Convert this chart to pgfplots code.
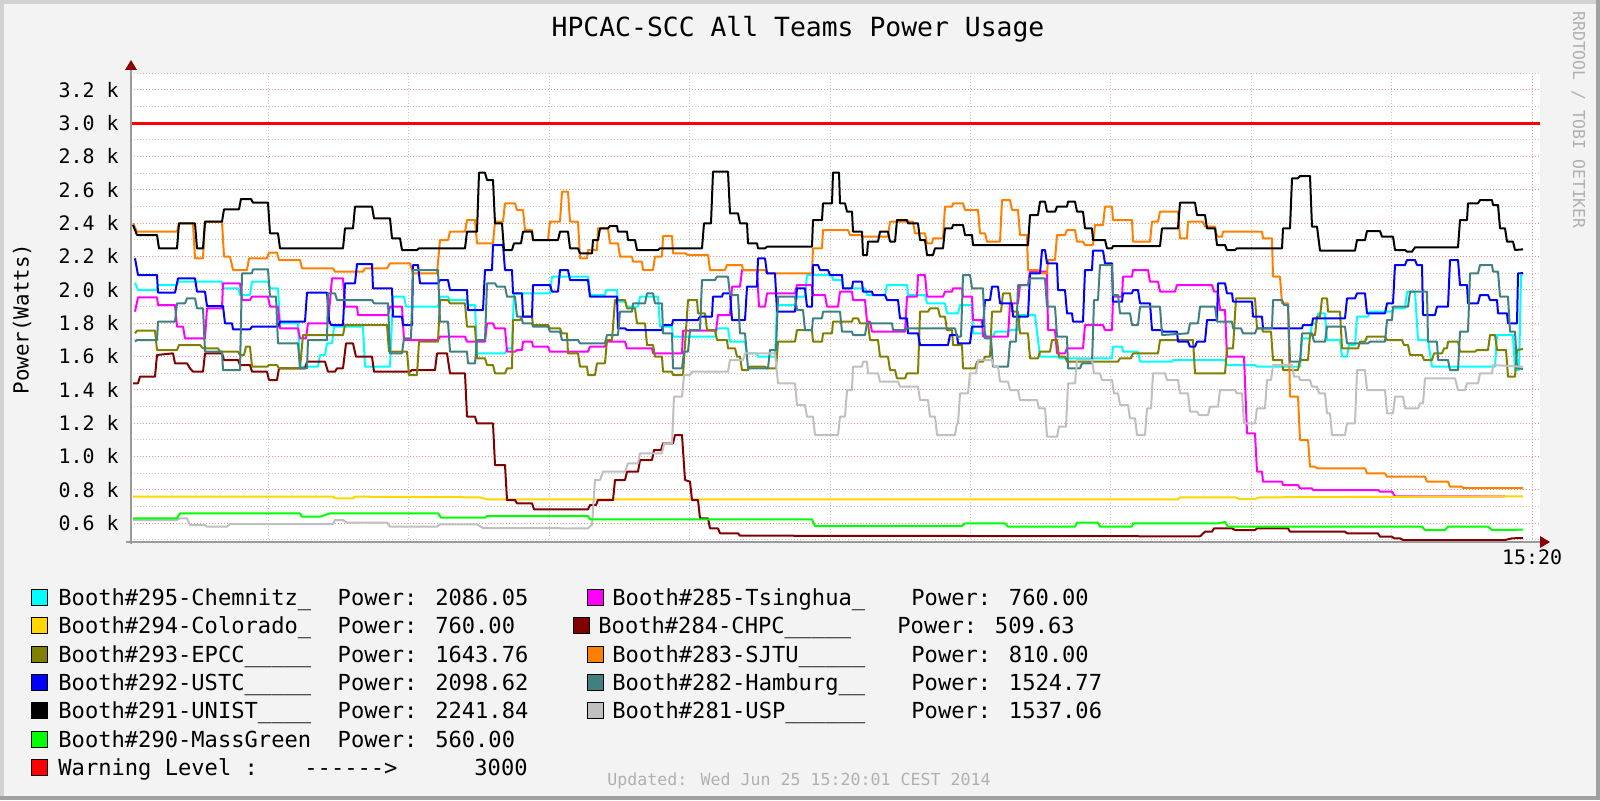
\documentclass[border=0pt]{standalone}
\usepackage{fontspec}
\setmainfont{DejaVu Sans Mono}
\usepackage{pgfplots}
\pgfplotsset{compat=1.18}
\definecolor{bg}{HTML}{F3F3F3}
\definecolor{frameL}{HTML}{D2D2D2}
\definecolor{frameD}{HTML}{A0A0A0}
\definecolor{cMin}{HTML}{C4C4C4}
\definecolor{cMaj}{HTML}{F09090}
\definecolor{cAxis}{HTML}{9A9A9A}
\definecolor{cArrow}{HTML}{8B0000}
\definecolor{cWm}{HTML}{B0B0B0}
\definecolor{cChem}{HTML}{00FFFF}
\definecolor{cColo}{HTML}{FFD700}
\definecolor{cEPCC}{HTML}{808000}
\definecolor{cUSTC}{HTML}{0000FF}
\definecolor{cUNIST}{HTML}{000000}
\definecolor{cMass}{HTML}{00FF00}
\definecolor{cWarn}{HTML}{FF0000}
\definecolor{cTsing}{HTML}{FF00FF}
\definecolor{cCHPC}{HTML}{800000}
\definecolor{cSJTU}{HTML}{FF8000}
\definecolor{cHamb}{HTML}{408080}
\definecolor{cUSP}{HTML}{C0C0C0}
\newcommand{\lgf}{\fontsize{11.05}{13}\selectfont}
\begin{document}
\begin{tikzpicture}[x=0.5pt,y=0.5pt]
\useasboundingbox (0,0) rectangle (1600,800);
\fill[bg] (0,0) rectangle (1600,800);
\fill[frameL] (0,796) rectangle (1600,800);
\fill[frameL] (0,0) rectangle (4,800);
\fill[frameD] (0,0) rectangle (1600,4);
\fill[frameD] (1596,0) rectangle (1600,800);
\begin{axis}[
  at={(65.5pt,129pt)}, anchor=south west,
  scale only axis,
  width=704.5pt, height=234.5pt,
  xmin=131, xmax=1540, ymin=486, ymax=3300,
  axis line style={draw=none},
  axis background/.style={fill=white},
  xtick={1532}, xticklabels={15:20},
  minor xtick={268.4,408.8,549.2,689.6,830,970.4,1110.8,1251.2,1391.6},
  ytick={600,800,...,3200},
  yticklabels={0.6 k,0.8 k,1.0 k,1.2 k,1.4 k,1.6 k,1.8 k,2.0 k,2.2 k,2.4 k,2.6 k,2.8 k,3.0 k,3.2 k},
  minor ytick={500,700,...,3300},
  grid=both,
  major grid style={draw=cMaj, line width=0.5pt, dash pattern=on 0.5pt off 1pt},
  minor grid style={draw=cMin, line width=0.5pt, dash pattern=on 0.5pt off 1pt},
  tick style={draw=none},
  ticklabel style={font=\fontsize{9.97}{12}\selectfont, inner sep=0pt},
  yticklabel style={anchor=east, xshift=-6pt},
  xticklabel style={anchor=north, yshift=-3.5pt},
  clip=false,
  no markers,
  every axis plot/.append style={line width=1pt, line join=round},
]
% Chemnitz
\addplot[cChem] coordinates {(135,2042) (138,1998) (157,1998) (158,2028) (177,2028) (178,2048) (222,2048) (223,2008) (238,2008) (240,1968) (250,1968) (252,2048) (268,2048) (270,2008) (278,2008) (280,1798) (298,1798) (300,1538) (318,1538) (320,1608) (325,1608) (327,1678) (332,1678) (334,1778) (363,1778) (365,1538) (390,1538) (393,1958) (404,1958) (406,1898) (438,1898) (440,1958) (448,1958) (450,1938) (467,1938) (468,1908) (475,1908) (477,1618) (505,1618) (507,1648) (512,1648) (514,1978) (550,1978) (552,2078) (588,2078) (590,1968) (605,1968) (606,1998) (617,1998) (618,1928) (625,1928) (627,1898) (638,1898) (640,1958) (658,1958) (660,1778) (672,1778) (673,1718) (715,1718) (717,1768) (728,1768) (730,1688) (745,1688) (747,1618) (757,1618) (758,1598) (775,1598) (777,1908) (795,1908) (797,1958) (805,1958) (807,2088) (832,2088) (833,2058) (842,2058) (843,2008) (865,2008) (867,1968) (885,1968) (887,2028) (907,2028) (908,1968) (925,1968) (927,1918) (945,1918) (947,1858) (958,1858) (960,1908) (972,1908) (973,1738) (985,1738) (987,1718) (993,1718) (995,1748) (1008,1748) (1010,1758) (1018,1758) (1020,1848) (1035,1848) (1038,1698) (1040,1598) (1058,1598) (1060,1588) (1112,1588) (1113,1658) (1122,1658) (1123,1628) (1138,1628) (1140,1568) (1172,1568) (1173,1578) (1225,1578) (1227,1548) (1255,1548) (1257,1538) (1300,1538) (1302,1708) (1310,1708) (1312,1798) (1316,1798) (1318,1858) (1325,1858) (1327,1698) (1340,1698) (1342,1598) (1347,1598) (1349,1668) (1355,1668) (1357,1838) (1368,1838) (1370,1868) (1392,1868) (1393,1888) (1405,1888) (1407,1988) (1415,1988) (1418,1698) (1428,1698) (1432,1538) (1495,1538) (1497,1728) (1513,1728) (1515,1518) (1519,1518) (1521,2086) (1523,2086)};
% Tsinghua
\addplot[cTsing] coordinates {(135,1868) (138,1954) (157,1954) (158,1908) (175,1908) (177,1778) (183,1778) (185,1708) (205,1708) (207,1888) (222,1888) (223,2038) (240,2038) (242,1938) (250,1938) (252,1958) (268,1958) (270,1898) (278,1898) (280,1768) (298,1768) (300,1708) (306,1708) (308,1798) (328,1798) (332,2068) (343,2068) (345,1898) (357,1898) (358,1848) (388,1848) (390,1898) (402,1898) (404,1698) (438,1698) (440,1718) (465,1718) (467,1688) (485,1688) (487,1798) (493,1798) (495,1768) (505,1768) (507,1628) (515,1628) (517,1638) (522,1638) (523,1688) (532,1688) (533,1658) (548,1658) (550,1628) (588,1628) (590,1658) (605,1658) (607,1688) (625,1688) (627,1648) (652,1648) (653,1618) (682,1618) (683,1754) (716,1754) (718,1848) (730,1848) (732,2018) (740,2018) (742,2118) (757,2118) (759,1898) (765,1898) (767,1978) (795,1978) (797,2028) (812,2028) (813,1968) (825,1968) (827,1898) (838,1898) (840,1988) (852,1988) (853,1938) (865,1938) (867,1808) (870,1808) (872,1748) (905,1748) (907,1958) (917,1958) (918,2088) (925,2088) (927,1958) (943,1958) (945,1988) (952,1988) (953,2008) (962,2008) (963,1958) (972,1958) (973,1818) (982,1818) (983,1718) (1008,1718) (1010,1918) (1018,1918) (1020,2028) (1028,2028) (1030,2108) (1047,2108) (1048,1758) (1055,1758) (1057,1618) (1065,1618) (1067,1648) (1083,1648) (1085,1788) (1103,1788) (1105,1758) (1112,1758) (1113,1958) (1122,1958) (1123,2078) (1132,2078) (1133,2118) (1148,2118) (1150,2048) (1158,2048) (1160,1988) (1175,1988) (1177,2028) (1212,2028) (1214,1988) (1218,1988) (1220,1878) (1225,1878) (1227,1598) (1244,1598) (1247,1138) (1255,1138) (1257,908) (1262,908) (1263,848) (1282,848) (1283,828) (1298,828) (1300,808) (1312,808) (1313,798) (1378,798) (1380,788) (1392,788) (1395,760) (1505,760)};
% Colorado
\addplot[cColo] coordinates {(133,758) (333,758) (335,748) (353,748) (355,758) (480,754) (487,742) (1178,742) (1180,754) (1235,754) (1240,744) (1255,744) (1260,754) (1523,760)};
% CHPC
\addplot[cCHPC] coordinates {(133,1438) (138,1438) (140,1478) (155,1478) (157,1608) (173,1618) (175,1558) (187,1558) (190,1528) (193,1508) (203,1508) (205,1618) (222,1618) (224,1578) (238,1578) (240,1548) (250,1548) (252,1508) (267,1508) (269,1458) (277,1458) (279,1528) (305,1528) (307,1568) (325,1568) (328,1508) (335,1508) (337,1528) (343,1528) (346,1678) (353,1678) (356,1598) (372,1598) (374,1508) (410,1508) (412,1518) (435,1518) (437,1618) (447,1618) (450,1498) (465,1498) (467,1238) (475,1238) (477,1198) (493,1198) (495,948) (505,948) (507,738) (515,738) (517,718) (532,718) (534,682) (588,682) (590,708) (596,708) (598,738) (613,738) (615,858) (625,858) (627,908) (638,908) (640,978) (652,978) (654,1038) (661,1038) (663,1078) (673,1078) (675,1128) (682,1128) (685,858) (690,848) (692,738) (698,738) (700,628) (708,628) (710,568) (718,568) (720,538) (738,538) (740,524) (1200,520) (1205,548) (1212,548) (1214,568) (1232,568) (1235,558) (1255,558) (1257,568) (1288,568) (1290,548) (1345,548) (1347,538) (1378,538) (1380,518) (1392,518) (1394,508) (1400,508) (1403,498) (1505,498) (1512,508) (1523,510)};
% EPCC
\addplot[cEPCC] coordinates {(135,1738) (137,1754) (155,1754) (157,1638) (177,1638) (179,1668) (200,1668) (203,1648) (218,1648) (220,1628) (238,1628) (240,1608) (244,1608) (246,1658) (250,1658) (252,1538) (267,1538) (269,1548) (277,1548) (279,1528) (300,1528) (303,1728) (343,1728) (345,1788) (387,1788) (389,1628) (407,1628) (409,1488) (417,1488) (419,1688) (438,1688) (440,1938) (448,1938) (450,1918) (465,1918) (467,1778) (475,1778) (477,1588) (485,1588) (487,1548) (493,1548) (495,1498) (505,1498) (507,1528) (512,1528) (513,1818) (520,1818) (522,1838) (532,1838) (533,1788) (548,1788) (550,1768) (560,1768) (562,1738) (567,1738) (568,1618) (578,1618) (580,1538) (587,1538) (588,1488) (595,1488) (597,1558) (605,1558) (607,1698) (612,1698) (615,1938) (625,1938) (627,1888) (635,1888) (637,1798) (645,1798) (647,1668) (653,1668) (655,1598) (662,1598) (663,1508) (672,1508) (673,1488) (683,1488) (688,1938) (697,1938) (698,1858) (705,1858) (707,1758) (715,1758) (717,1698) (727,1698) (728,1648) (735,1648) (737,1598) (740,1598) (742,1518) (748,1518) (750,1538) (765,1538) (767,1528) (776,1528) (778,1688) (795,1688) (797,1758) (812,1758) (813,1688) (822,1688) (823,1738) (832,1738) (833,1808) (852,1808) (853,1828) (858,1828) (860,1798) (868,1798) (870,1698) (878,1698) (880,1598) (888,1598) (890,1518) (895,1518) (897,1468) (905,1468) (907,1498) (918,1498) (920,1868) (928,1868) (930,1888) (938,1888) (940,1838) (945,1838) (947,1758) (952,1758) (953,1668) (962,1668) (963,1528) (975,1528) (977,1568) (983,1568) (985,1598) (990,1598) (992,1868) (1001,1868) (1003,1978) (1010,1978) (1012,1868) (1018,1868) (1020,1738) (1028,1738) (1030,1588) (1038,1588) (1040,1628) (1050,1628) (1052,1698) (1057,1698) (1059,1598) (1065,1598) (1067,1568) (1118,1568) (1120,1588) (1131,1588) (1133,1618) (1158,1618) (1160,1698) (1193,1698) (1195,1498) (1225,1498) (1227,1648) (1233,1648) (1236,1948) (1255,1948) (1257,1768) (1262,1768) (1263,1748) (1271,1748) (1273,1578) (1282,1578) (1283,1518) (1298,1518) (1300,1578) (1308,1578) (1310,1728) (1315,1728) (1317,1838) (1320,1838) (1322,1948) (1327,1948) (1328,1868) (1340,1868) (1342,1648) (1358,1648) (1360,1688) (1365,1688) (1367,1718) (1385,1718) (1387,1698) (1402,1698) (1404,1668) (1408,1668) (1410,1608) (1422,1608) (1424,1578) (1432,1578) (1434,1618) (1442,1618) (1444,1648) (1447,1648) (1448,1688) (1458,1688) (1460,1628) (1475,1628) (1477,1638) (1488,1638) (1490,1728) (1495,1728) (1497,1638) (1506,1638) (1508,1478) (1515,1478) (1517,1638) (1523,1644)};
% SJTU
\addplot[cSJTU] coordinates {(133,2398) (137,2348) (177,2348) (179,2398) (193,2398) (195,2188) (203,2188) (205,2408) (222,2408) (224,2198) (230,2198) (233,2118) (247,2118) (249,2188) (267,2188) (269,2222) (277,2222) (279,2178) (300,2178) (302,2128) (333,2128) (335,2108) (363,2108) (365,2128) (387,2128) (390,2158) (410,2158) (413,2098) (437,2098) (440,2298) (448,2298) (450,2348) (465,2348) (467,2418) (475,2418) (477,2278) (493,2278) (495,2408) (503,2408) (505,2518) (515,2518) (517,2478) (523,2478) (525,2358) (532,2358) (533,2298) (548,2298) (550,2408) (560,2408) (562,2588) (568,2588) (570,2408) (578,2408) (580,2188) (587,2188) (588,2238) (597,2238) (598,2368) (608,2368) (610,2278) (618,2278) (620,2198) (632,2198) (633,2168) (642,2168) (643,2118) (653,2118) (655,2198) (662,2198) (663,2322) (672,2322) (673,2218) (685,2218) (688,2208) (708,2208) (710,2118) (725,2118) (727,2148) (742,2148) (743,2118) (765,2118) (767,2098) (812,2098) (813,2248) (822,2248) (823,2358) (848,2358) (850,2328) (862,2328) (863,2318) (888,2318) (890,2408) (913,2408) (915,2338) (925,2338) (927,2278) (932,2278) (933,2308) (943,2308) (945,2498) (952,2498) (953,2518) (963,2518) (965,2478) (978,2478) (980,2338) (985,2338) (987,2288) (1000,2288) (1002,2538) (1010,2538) (1012,2478) (1018,2478) (1020,2328) (1027,2328) (1028,2118) (1038,2118) (1040,2098) (1047,2098) (1048,2178) (1055,2178) (1057,2328) (1065,2328) (1067,2358) (1075,2358) (1077,2288) (1083,2288) (1085,2268) (1093,2268) (1095,2388) (1103,2388) (1105,2498) (1112,2498) (1113,2418) (1132,2418) (1133,2288) (1150,2288) (1152,2408) (1158,2408) (1160,2468) (1178,2468) (1180,2308) (1187,2308) (1188,2408) (1203,2408) (1205,2378) (1215,2378) (1217,2318) (1222,2318) (1223,2348) (1262,2348) (1263,2308) (1272,2308) (1273,2078) (1280,2078) (1282,1918) (1288,1918) (1290,1358) (1298,1358) (1300,1098) (1308,1098) (1310,938) (1315,938) (1317,928) (1365,928) (1367,898) (1385,898) (1387,878) (1425,878) (1427,848) (1448,848) (1450,818) (1462,818) (1463,810) (1523,810)};
% USTC
\addplot[cUSTC] coordinates {(135,2188) (138,2088) (157,2088) (158,1982) (175,1982) (178,2068) (195,2068) (197,1988) (205,1988) (207,1902) (223,1902) (225,1798) (232,1798) (233,1762) (250,1762) (252,1778) (278,1778) (280,1808) (305,1808) (307,1982) (327,1982) (329,1818) (331,1788) (343,1788) (345,2038) (355,2038) (357,2154) (372,2154) (373,2008) (392,2008) (393,1838) (402,1838) (403,1788) (412,1788) (413,2148) (418,2148) (420,2038) (438,2038) (440,2058) (448,2058) (450,1998) (467,1998) (468,1878) (483,1878) (485,2118) (492,2118) (493,2268) (503,2268) (505,2118) (512,2118) (513,1978) (522,1978) (523,1838) (532,1838) (533,2028) (550,2028) (552,1988) (558,1988) (560,2118) (568,2118) (570,2058) (588,2058) (590,1958) (617,1958) (618,1768) (625,1768) (627,1758) (662,1758) (663,1788) (672,1788) (673,1818) (698,1818) (700,1838) (712,1838) (713,1958) (722,1958) (723,1978) (730,1978) (732,1818) (745,1818) (747,2018) (757,2018) (758,2188) (765,2188) (767,2098) (775,2098) (777,1868) (795,1868) (797,2008) (805,2008) (807,1898) (812,1898) (813,2148) (818,2148) (820,2118) (828,2118) (830,2088) (842,2088) (843,2008) (852,2008) (853,2048) (862,2048) (863,1988) (872,1988) (873,1968) (885,1968) (887,1938) (898,1938) (900,1828) (907,1828) (908,1738) (918,1738) (920,1668) (948,1668) (950,1728) (957,1728) (958,1678) (970,1678) (972,1778) (983,1778) (985,1938) (990,1938) (992,2018) (998,2018) (1000,1918) (1012,1918) (1013,1838) (1028,1838) (1030,2098) (1040,2098) (1042,2238) (1045,2238) (1047,2158) (1057,2158) (1058,1998) (1065,1998) (1067,1858) (1072,1858) (1073,1808) (1083,1808) (1085,2118) (1092,2118) (1093,2234) (1103,2234) (1105,2158) (1112,2158) (1113,1928) (1122,1928) (1123,1978) (1132,1978) (1133,1998) (1138,1998) (1140,1918) (1150,1918) (1152,1758) (1162,1758) (1163,1748) (1177,1748) (1178,1688) (1188,1688) (1190,1658) (1195,1658) (1197,1688) (1205,1688) (1207,1818) (1217,1818) (1218,2038) (1225,2038) (1227,1978) (1232,1978) (1233,1928) (1252,1928) (1253,1838) (1262,1838) (1263,1768) (1302,1768) (1303,1788) (1312,1788) (1313,1828) (1345,1828) (1347,1948) (1355,1948) (1357,1978) (1365,1978) (1367,1858) (1385,1858) (1387,1918) (1393,1918) (1395,2148) (1405,2148) (1407,2178) (1415,2178) (1417,2148) (1422,2148) (1423,1848) (1435,1848) (1437,1898) (1448,1898) (1450,2178) (1458,2178) (1460,2028) (1467,2028) (1468,1918) (1478,1918) (1480,1968) (1488,1968) (1490,1938) (1497,1938) (1498,1858) (1507,1858) (1508,1798) (1517,1798) (1518,2098) (1523,2099)};
% Hamburg
\addplot[cHamb] coordinates {(135,1688) (137,1698) (157,1698) (158,1808) (175,1808) (177,1918) (185,1918) (187,1948) (195,1948) (197,1888) (203,1888) (205,1628) (222,1628) (223,1518) (240,1518) (242,2098) (252,2098) (253,2122) (268,2122) (270,1958) (276,1958) (278,1678) (298,1678) (300,1528) (307,1528) (308,1698) (327,1698) (328,1978) (335,1978) (337,1938) (372,1938) (374,1918) (388,1918) (390,1618) (402,1618) (404,1708) (411,1708) (413,2118) (438,2118) (440,1808) (448,1808) (450,1628) (467,1628) (468,1558) (475,1558) (477,1698) (485,1698) (487,2038) (495,2038) (497,2018) (505,2018) (507,1958) (515,1958) (517,1838) (521,1838) (523,1798) (532,1798) (533,1778) (548,1778) (550,1748) (560,1748) (562,1698) (578,1698) (580,1678) (605,1678) (607,1728) (618,1728) (620,1868) (632,1868) (633,1918) (645,1918) (647,1978) (653,1978) (655,1918) (662,1918) (663,1738) (672,1738) (673,1528) (682,1528) (684,1628) (688,1628) (690,1758) (700,1758) (702,2058) (715,2058) (717,2078) (728,2078) (730,1968) (738,1968) (740,1738) (745,1738) (748,1528) (768,1528) (770,1638) (776,1638) (778,1958) (795,1958) (797,1878) (803,1878) (805,1758) (812,1758) (813,1828) (822,1828) (823,1868) (840,1868) (842,1748) (852,1748) (853,1728) (865,1728) (867,1798) (892,1798) (893,1758) (905,1758) (907,1768) (955,1768) (957,1718) (961,1718) (963,2088) (970,2088) (972,2008) (983,2008) (985,1708) (991,1708) (993,1538) (1008,1538) (1010,1688) (1016,1688) (1018,2028) (1028,2028) (1030,2068) (1045,2068) (1047,1898) (1055,1898) (1057,1718) (1067,1718) (1068,1528) (1080,1528) (1082,1558) (1092,1558) (1094,1938) (1098,1938) (1100,2148) (1112,2148) (1113,1968) (1118,1968) (1120,1858) (1130,1858) (1132,1788) (1138,1788) (1140,1898) (1160,1898) (1162,1728) (1188,1738) (1190,1798) (1198,1798) (1200,1898) (1215,1898) (1217,1808) (1232,1808) (1233,1768) (1241,1768) (1243,1738) (1255,1738) (1257,1768) (1272,1768) (1273,1938) (1282,1938) (1284,1908) (1288,1908) (1290,1568) (1300,1568) (1302,1738) (1312,1738) (1314,1688) (1325,1688) (1327,1778) (1345,1778) (1347,1678) (1368,1678) (1370,1688) (1385,1688) (1387,1818) (1392,1818) (1393,1898) (1408,1898) (1410,1988) (1427,1988) (1428,1688) (1437,1688) (1438,1578) (1448,1578) (1450,1518) (1458,1518) (1460,1748) (1468,1748) (1470,2098) (1478,2098) (1480,2148) (1492,2148) (1493,2108) (1498,2108) (1500,1958) (1508,1958) (1510,1748) (1515,1748) (1517,1528) (1523,1525)};
% UNIST
\addplot[cUNIST] coordinates {(133,2388) (137,2328) (157,2328) (159,2248) (177,2248) (179,2398) (195,2398) (197,2248) (203,2248) (205,2408) (222,2408) (224,2482) (239,2482) (241,2544) (251,2544) (253,2522) (268,2522) (270,2338) (278,2338) (280,2248) (343,2248) (345,2368) (353,2368) (355,2498) (372,2498) (374,2428) (390,2428) (392,2308) (400,2308) (402,2238) (417,2238) (419,2248) (465,2248) (467,2348) (477,2348) (479,2702) (485,2702) (487,2658) (493,2658) (495,2398) (502,2398) (504,2238) (512,2238) (514,2278) (521,2278) (523,2348) (532,2348) (533,2298) (558,2298) (560,2348) (568,2348) (570,2248) (578,2248) (580,2218) (592,2218) (593,2298) (598,2298) (600,2368) (608,2368) (610,2382) (617,2382) (618,2348) (627,2348) (628,2298) (635,2298) (637,2238) (658,2238) (660,2248) (702,2248) (704,2398) (711,2398) (713,2708) (728,2708) (730,2458) (738,2458) (740,2398) (747,2398) (748,2278) (757,2278) (758,2248) (765,2248) (767,2258) (812,2258) (813,2418) (822,2418) (823,2518) (832,2518) (833,2702) (839,2702) (840,2518) (845,2518) (847,2468) (852,2468) (853,2348) (862,2348) (863,2208) (867,2208) (868,2288) (878,2288) (880,2348) (888,2348) (890,2288) (895,2288) (897,2418) (907,2418) (908,2398) (918,2398) (920,2298) (925,2298) (927,2208) (933,2208) (935,2248) (943,2248) (945,2368) (952,2368) (953,2388) (963,2388) (965,2328) (972,2328) (973,2268) (1028,2268) (1030,2448) (1038,2448) (1040,2528) (1045,2528) (1047,2468) (1055,2468) (1057,2498) (1067,2498) (1068,2528) (1075,2528) (1077,2468) (1083,2468) (1085,2368) (1092,2368) (1093,2298) (1105,2298) (1107,2248) (1112,2248) (1113,2262) (1160,2262) (1162,2368) (1178,2368) (1180,2522) (1195,2522) (1197,2448) (1205,2448) (1207,2368) (1215,2368) (1217,2268) (1225,2268) (1227,2238) (1235,2238) (1237,2248) (1282,2248) (1283,2368) (1290,2368) (1292,2668) (1298,2668) (1300,2682) (1310,2682) (1312,2378) (1317,2378) (1320,2234) (1355,2234) (1357,2298) (1365,2298) (1367,2352) (1380,2352) (1382,2318) (1393,2318) (1395,2238) (1405,2238) (1407,2228) (1412,2228) (1415,2254) (1458,2254) (1460,2418) (1467,2418) (1468,2518) (1478,2518) (1480,2538) (1492,2538) (1493,2508) (1498,2508) (1500,2368) (1505,2368) (1507,2288) (1513,2288) (1515,2238) (1523,2242)};
% USP
\addplot[cUSP] coordinates {(133,618) (177,618) (180,628) (187,628) (190,588) (205,588) (207,578) (227,578) (230,594) (333,594) (335,618) (343,618) (347,602) (387,602) (390,578) (437,578) (440,592) (477,592) (483,570) (588,568) (592,590) (595,858) (600,858) (603,908) (625,908) (628,958) (638,958) (640,1018) (662,1018) (664,1078) (672,1078) (674,1358) (682,1358) (684,1488) (690,1488) (692,1508) (728,1508) (730,1578) (743,1578) (745,1618) (775,1618) (778,1438) (795,1438) (797,1308) (805,1308) (807,1238) (813,1238) (815,1128) (838,1128) (840,1238) (845,1238) (847,1398) (852,1398) (853,1538) (862,1538) (863,1568) (867,1568) (868,1498) (878,1498) (880,1448) (898,1448) (900,1418) (918,1418) (920,1338) (928,1338) (930,1238) (935,1238) (937,1128) (955,1128) (957,1198) (958,1198) (960,1378) (968,1378) (970,1498) (976,1498) (978,1578) (992,1578) (994,1538) (998,1538) (1000,1448) (1008,1448) (1010,1398) (1018,1398) (1020,1338) (1037,1338) (1039,1288) (1045,1288) (1047,1118) (1057,1118) (1059,1178) (1066,1178) (1068,1438) (1075,1438) (1077,1578) (1092,1578) (1094,1498) (1100,1498) (1102,1458) (1112,1458) (1114,1378) (1118,1378) (1120,1308) (1128,1308) (1130,1228) (1135,1228) (1137,1128) (1145,1128) (1147,1288) (1151,1288) (1153,1498) (1165,1498) (1167,1458) (1178,1458) (1180,1378) (1188,1378) (1190,1268) (1197,1268) (1199,1248) (1208,1248) (1210,1298) (1218,1298) (1220,1398) (1235,1398) (1237,1378) (1242,1378) (1244,1198) (1255,1198) (1257,1288) (1265,1288) (1267,1458) (1271,1458) (1273,1548) (1292,1548) (1294,1478) (1299,1478) (1300,1458) (1310,1458) (1312,1418) (1317,1418) (1319,1378) (1325,1378) (1327,1258) (1330,1258) (1332,1128) (1345,1128) (1347,1198) (1355,1198) (1357,1518) (1365,1518) (1367,1398) (1385,1398) (1387,1258) (1393,1258) (1395,1358) (1403,1358) (1405,1288) (1418,1288) (1420,1318) (1423,1318) (1425,1468) (1455,1468) (1458,1398) (1465,1398) (1467,1438) (1478,1438) (1480,1498) (1492,1498) (1493,1548) (1523,1537)};
% MassGreen
\addplot[cMass] coordinates {(133,628) (177,628) (180,658) (300,658) (302,638) (320,638) (330,658) (438,658) (441,632) (485,632) (487,642) (588,642) (590,622) (812,622) (815,582) (962,582) (965,598) (1005,598) (1008,578) (1075,578) (1077,602) (1098,602) (1100,578) (1132,578) (1133,598) (1218,598) (1225,606) (1228,578) (1422,578) (1425,558) (1445,558) (1448,578) (1488,578) (1492,558) (1523,560)};
% Warning
\addplot[cWarn, line width=1.5pt] coordinates {(131,3000) (1540,3000)};
\end{axis}
% axes
\draw[cAxis, line width=1pt] (131,256) -- (131,733);
\fill[cArrow] (125,730) -- (137,730) -- (131,740) -- cycle;
\draw[cAxis, line width=1pt] (126,258) -- (1543,258);
\fill[cArrow] (1540,252) -- (1540,264) -- (1550,258) -- cycle;
% texts
\node[anchor=base, inner sep=0pt, font=\fontsize{13.2}{15}\selectfont] at (798,763.5) {HPCAC-SCC All Teams Power Usage};
\node[anchor=base, inner sep=0pt, rotate=90, font=\fontsize{10.4}{12}\selectfont] at (28.5,481) {Power(Watts)};
\node[anchor=base, inner sep=0pt, text=cWm, font=\fontsize{8.3}{10}\selectfont] at (799,15) {Updated: Wed Jun 25 15:20:01 CEST 2014};
\node[anchor=base, inner sep=0pt, rotate=-90, text=cWm, font=\fontsize{8.2}{10}\selectfont] at (1573,680) {RRDTOOL / TOBI OETIKER};
% legend col 1
\begin{scope}[every node/.style={anchor=base west, inner sep=0pt, font=\lgf}]
\filldraw[fill=cChem, draw=black, line width=0.5pt] (31,194.5) rectangle (47,210.5);
\node at (58,194.5) {Booth\#295-Chemnitz\_}; \node at (337.3,194.5) {Power: 2086.05};
\filldraw[fill=cColo, draw=black, line width=0.5pt] (31,166.2) rectangle (47,182.2);
\node at (58,166.2) {Booth\#294-Colorado\_}; \node at (337.3,166.2) {Power: 760.00};
\filldraw[fill=cEPCC, draw=black, line width=0.5pt] (31,137.8) rectangle (47,153.8);
\node at (58,137.8) {Booth\#293-EPCC\_\_\_\_\_}; \node at (337.3,137.8) {Power: 1643.76};
\filldraw[fill=cUSTC, draw=black, line width=0.5pt] (31,109.5) rectangle (47,125.5);
\node at (58,109.5) {Booth\#292-USTC\_\_\_\_\_}; \node at (337.3,109.5) {Power: 2098.62};
\filldraw[fill=cUNIST, draw=black, line width=0.5pt] (31,81.2) rectangle (47,97.2);
\node at (58,81.2) {Booth\#291-UNIST\_\_\_\_}; \node at (337.3,81.2) {Power: 2241.84};
\filldraw[fill=cMass, draw=black, line width=0.5pt] (31,52.8) rectangle (47,68.8);
\node at (58,52.8) {Booth\#290-MassGreen}; \node at (337.3,52.8) {Power: 560.00};
\filldraw[fill=cWarn, draw=black, line width=0.5pt] (31,24.5) rectangle (47,40.5);
\node at (58,24.5) {Warning Level :}; \node at (304,24.5) {-{}-{}-{}-{}-{}->}; \node at (474,24.5) {3000};
% legend col 2
\filldraw[fill=cTsing, draw=black, line width=0.5pt] (587,194.5) rectangle (603,210.5);
\node at (612,194.5) {Booth\#285-Tsinghua\_}; \node at (911,194.5) {Power: 760.00};
\filldraw[fill=cCHPC, draw=black, line width=0.5pt] (573,166.2) rectangle (589,182.2);
\node at (598,166.2) {Booth\#284-CHPC\_\_\_\_\_}; \node at (897,166.2) {Power: 509.63};
\filldraw[fill=cSJTU, draw=black, line width=0.5pt] (587,137.8) rectangle (603,153.8);
\node at (612,137.8) {Booth\#283-SJTU\_\_\_\_\_}; \node at (911,137.8) {Power: 810.00};
\filldraw[fill=cHamb, draw=black, line width=0.5pt] (587,109.5) rectangle (603,125.5);
\node at (612,109.5) {Booth\#282-Hamburg\_\_}; \node at (911,109.5) {Power: 1524.77};
\filldraw[fill=cUSP, draw=black, line width=0.5pt] (587,81.2) rectangle (603,97.2);
\node at (612,81.2) {Booth\#281-USP\_\_\_\_\_\_}; \node at (911,81.2) {Power: 1537.06};
\end{scope}
\end{tikzpicture}
\end{document}
